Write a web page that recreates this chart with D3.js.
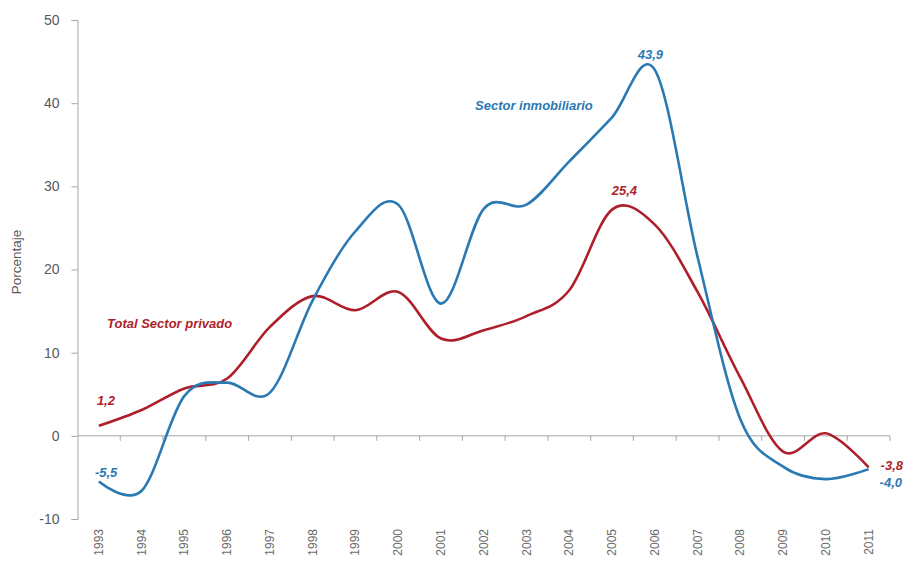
<!DOCTYPE html>
<html>
<head>
<meta charset="utf-8">
<script src="https://cdn.jsdelivr.net/npm/d3@7"></script>
<style>
  html, body { margin: 0; padding: 0; background: #fff; }
  svg { display: block; font-family: "Liberation Sans", Arial, sans-serif; }
</style>
</head>
<body>
<svg id="chart" width="905" height="563"></svg>
<script>
// ---- data ----
const years = ["1993","1994","1995","1996","1997","1998","1999","2000","2001","2002",
               "2003","2004","2005","2006","2007","2008","2009","2010","2011"];
const inmobiliario = [-5.5, -6.6, 4.8, 6.4, 5.2, 16.3, 24.6, 27.8, 15.9, 27.3,
                      27.8, 33.0, 38.3, 44.0, 21.5, 2.0, -3.7, -5.2, -4.0];
const privado = [1.2, 3.1, 5.7, 6.9, 13.1, 16.8, 15.1, 17.3, 11.7, 12.7,
                 14.4, 17.5, 27.2, 25.4, 17.3, 7.0, -1.9, 0.3, -3.8];
const yTicks = [-10, 0, 10, 20, 30, 40, 50];
const yLabel = "Porcentaje";
const seriesNames = ["Sector inmobiliario", "Total Sector privado"];
const valueLabels = [
  {series: 0, text: "-5,5", year: "1993"},
  {series: 0, text: "43,9", year: "2006"},
  {series: 0, text: "-4,0", year: "2011"},
  {series: 1, text: "1,2", year: "1993"},
  {series: 1, text: "25,4", year: "2006"},
  {series: 1, text: "-3,8", year: "2011"}
];

// ---- layout ----
(function () {
const svg = d3.select("#chart");
const mLeft = 77.5, mRight = 890, mTop = 20, mBottom = 519;
const blue = "#2a79b3", red = "#ae1f2b";
const axisColor = "#a6a6a6", textColor = "#595959";

const x = d3.scaleBand().domain(years).range([mLeft, mRight]).padding(0);
const cx = d => x(d) + x.bandwidth() / 2;
const y = d3.scaleLinear().domain([-10, 50]).range([mBottom, mTop]);

// y axis
const yAxis = svg.append("g").attr("transform", `translate(${mLeft},0)`)
  .call(d3.axisLeft(y).tickValues(yTicks).tickSize(6).tickPadding(12).tickFormat(d => String(d)));
yAxis.select(".domain").attr("stroke", axisColor);
yAxis.selectAll(".tick line").attr("stroke", axisColor);
yAxis.selectAll(".tick text").attr("fill", textColor).style("font-size", "14px")
  .style("font-family", "'Liberation Sans', Arial, sans-serif");

// x axis line at 0
const y0 = y(0);
svg.append("line").attr("x1", mLeft).attr("x2", mRight).attr("y1", y0).attr("y2", y0)
  .attr("stroke", axisColor).attr("stroke-width", 1);
// boundary ticks
svg.append("g").selectAll("line").data(years).join("line")
  .attr("x1", d => x(d) + x.bandwidth()).attr("x2", d => x(d) + x.bandwidth())
  .attr("y1", y0).attr("y2", y0 + 5)
  .attr("stroke", axisColor);

// x labels, rotated
svg.append("g").selectAll("text").data(years).join("text")
  .attr("transform", d => `translate(${cx(d) + 4},529) rotate(-90)`)
  .attr("text-anchor", "end")
  .attr("fill", "#6a6a6a")
  .style("font-size", "12px")
  .text(d => d);

// y label
svg.append("text")
  .attr("transform", `translate(21,262) rotate(-90)`)
  .attr("text-anchor", "middle")
  .attr("fill", textColor)
  .style("font-size", "13.5px")
  .text(yLabel);

// lines
const line = d3.line()
  .x((d, i) => cx(years[i]))
  .y(d => y(d))
  .curve(d3.curveCatmullRom.alpha(0));

svg.append("path").datum(privado).attr("d", line)
  .attr("fill", "none").attr("stroke", red).attr("stroke-width", 2.6);
svg.append("path").datum(inmobiliario).attr("d", line)
  .attr("fill", "none").attr("stroke", blue).attr("stroke-width", 2.6);

// series names
svg.append("text").attr("x", 475).attr("y", 110).attr("fill", blue)
  .style("font-size", "13px").style("font-weight", "bold").style("font-style", "italic")
  .text(seriesNames[0]);
svg.append("text").attr("x", 107).attr("y", 328).attr("fill", red)
  .style("font-size", "13px").style("font-weight", "bold").style("font-style", "italic")
  .text(seriesNames[1]);

// value labels (position offsets relative to the data point)
const offsets = {
  "0-1993": [-4, -5], "0-2006": [-17, -11], "0-2011": [11, 18],
  "1-1993": [-2, -21], "1-2006": [-43, -30], "1-2011": [12, 3]
};
svg.append("g").selectAll("text").data(valueLabels).join("text")
  .attr("x", d => cx(d.year) + offsets[d.series + "-" + d.year][0])
  .attr("y", d => {
    const arr = d.series === 0 ? inmobiliario : privado;
    return y(arr[years.indexOf(d.year)]) + offsets[d.series + "-" + d.year][1];
  })
  .attr("fill", d => d.series === 0 ? blue : red)
  .style("font-size", "13px").style("font-weight", "bold").style("font-style", "italic")
  .text(d => d.text);
})();
</script>
</body>
</html>
